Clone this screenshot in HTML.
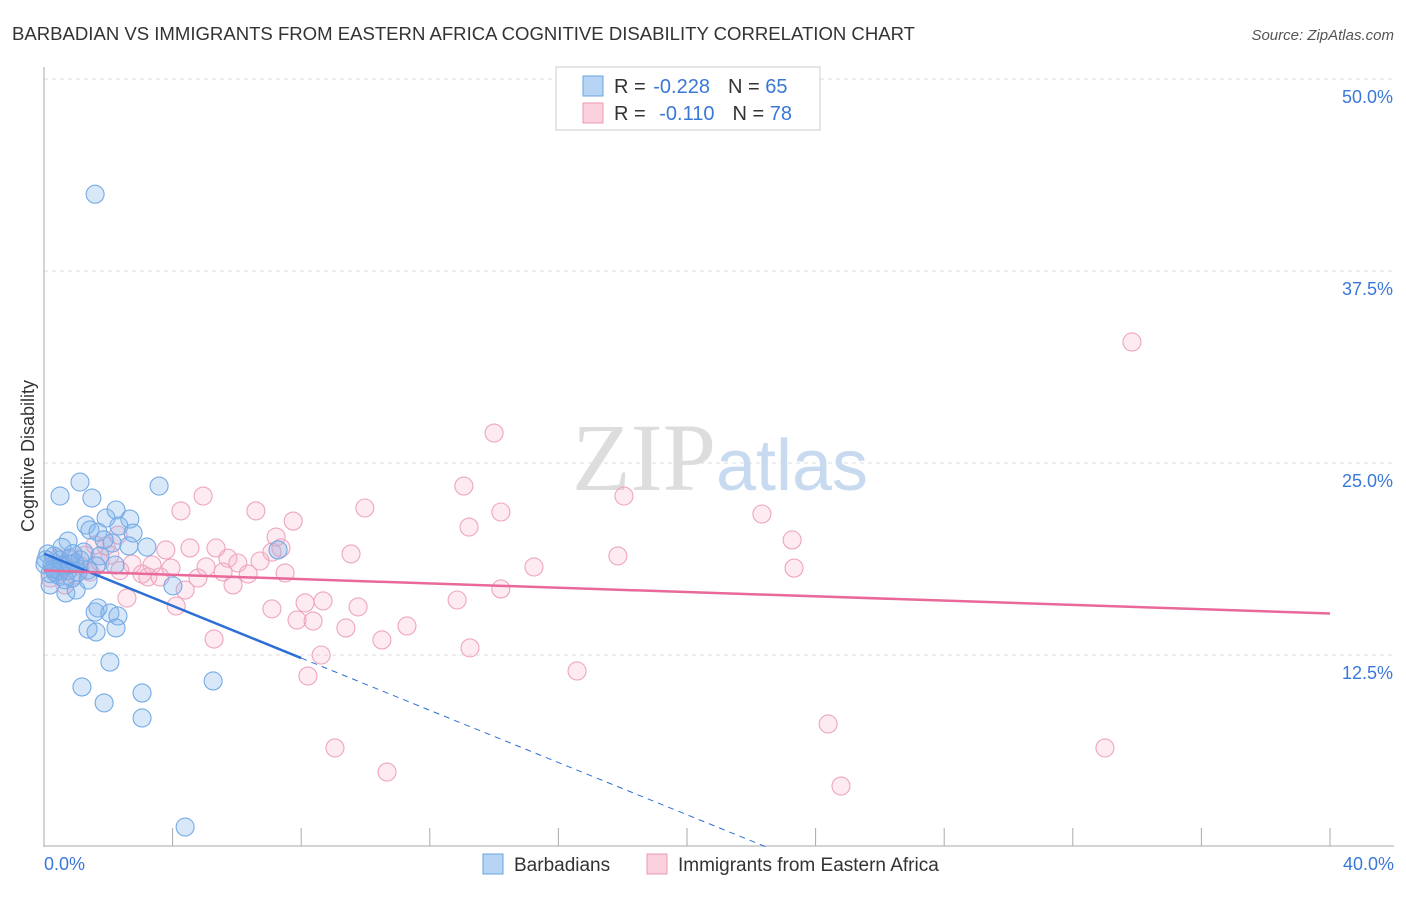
<!DOCTYPE html>
<html><head><meta charset="utf-8"><style>
body{margin:0;background:#fff;font-family:"Liberation Sans",sans-serif;}
</style></head><body>
<svg width="1406" height="892" viewBox="0 0 1406 892" xmlns="http://www.w3.org/2000/svg" font-family="Liberation Sans, sans-serif">
<text x="12" y="40" font-size="18" fill="#333" textLength="903" lengthAdjust="spacingAndGlyphs">BARBADIAN VS IMMIGRANTS FROM EASTERN AFRICA COGNITIVE DISABILITY CORRELATION CHART</text>
<text x="1394" y="40" font-size="15" fill="#555" text-anchor="end" font-style="italic">Source: ZipAtlas.com</text>
<g id="grid"></g>
<text x="720" y="490" font-size="96" text-anchor="middle" fill="#ddd" font-family="Liberation Serif, serif">ZIP<tspan fill="#c8daf0" font-family="Liberation Sans, sans-serif" font-size="72">atlas</tspan></text>
<g id="points"></g>
<g id="trends"></g>
<text transform="translate(34,456) rotate(-90)" font-size="18" fill="#333" text-anchor="middle">Cognitive Disability</text>
<g>
<rect x="556" y="67" width="264" height="63" fill="#fff" stroke="#ccc"/>
<rect x="583" y="76" width="20" height="20" fill="#b8d4f4" stroke="#6aa3e0"/>
<rect x="583" y="103" width="20" height="20" fill="#fbd0dd" stroke="#ec9ab5"/>
<text x="614" y="93" font-size="20" fill="#333">R = <tspan dx="2" fill="#3a78d8">-0.228</tspan><tspan dx="18">N = </tspan><tspan fill="#3a78d8">65</tspan></text>
<text x="614" y="120" font-size="20" fill="#333">R = <tspan dx="8" fill="#3a78d8">-0.110</tspan><tspan dx="18">N = </tspan><tspan fill="#3a78d8">78</tspan></text>
</g>
<g>
<rect x="483" y="854" width="20" height="20" fill="#b8d4f4" stroke="#6aa3e0"/>
<text x="514" y="871" font-size="19" fill="#333">Barbadians</text>
<rect x="647" y="854" width="20" height="20" fill="#fbd0dd" stroke="#ec9ab5"/>
<text x="678" y="871" font-size="19" fill="#333">Immigrants from Eastern Africa</text>
</g>
<text x="44" y="870" font-size="18" fill="#3a78d8">0.0%</text>
<text x="1394" y="870" font-size="18" fill="#3a78d8" text-anchor="end">40.0%</text>
</svg>
<script>
const yTicks=[12.5,25,37.5,50];
const yTickLabels=["12.5%","25.0%","37.5%","50.0%"];
const xTicks=[0,4,8,12,16,20,24,28,32,36,40];
const blueX=[1.59,0.5,1.12,1.49,3.58,2.24,1.93,2.67,1.31,2.33,1.43,0.75,2.77,2.12,3.2,2.64,1.24,1.74,0.31,0.5,0.81,0.12,0.25,0.56,1.06,1.37,1.62,2.21,0.87,0.44,0.19,0.68,1.0,1.37,7.28,4.01,1.68,1.59,2.05,2.3,1.37,1.62,2.24,2.05,1.18,3.05,5.26,1.87,3.05,4.39,0.5,0.75,0.34,0.03,0.56,0.96,0.06,0.19,1.12,0.65,0.81,1.68,1.87,0.9,0.3];
const blueY=[42.5,22.85,23.76,22.72,23.5,21.94,21.42,21.35,20.96,20.9,20.64,19.92,20.44,19.79,19.53,19.6,19.2,18.95,18.95,18.68,18.8,19.08,18.3,18.3,17.9,18.03,18.3,18.36,17.5,17.7,17.06,16.54,16.73,17.38,19.34,17.0,15.56,15.3,15.23,15.04,14.19,14.0,14.26,12.04,10.42,10.03,10.81,9.38,8.4,1.3,18.0,18.0,17.9,18.4,19.5,18.5,18.7,17.8,18.7,17.4,18.4,20.5,20.0,19.1,18.1];
const pinkX=[33.84,14.0,13.06,4.95,18.04,4.26,6.59,9.98,14.21,22.33,7.75,13.22,2.3,23.27,7.22,1.93,3.79,5.35,4.54,7.37,9.55,17.85,7.09,5.72,3.36,5.04,6.03,6.72,15.24,23.33,2.74,3.95,3.05,3.23,4.79,5.57,6.35,7.5,3.61,5.88,4.39,2.58,14.21,4.11,7.09,8.12,8.68,9.77,12.85,7.87,8.37,9.39,11.29,5.29,10.51,13.25,8.62,16.58,8.21,24.39,9.05,33.0,10.67,24.79,0.34,0.5,0.81,1.12,1.43,1.74,0.19,0.65,1.28,0.96,2.05,2.36,1.59,0.44];
const pinkY=[32.88,26.95,23.5,22.85,22.85,21.88,21.88,22.07,21.81,21.68,21.22,20.83,20.31,19.99,20.18,19.6,19.34,19.47,19.47,19.47,19.08,18.95,19.2,18.8,18.36,18.23,18.49,18.62,18.23,18.16,18.42,18.16,17.77,17.58,17.51,17.9,17.77,17.84,17.58,17.06,16.73,16.21,16.8,15.69,15.5,15.89,16.02,15.63,16.08,14.78,14.71,14.26,14.39,13.54,13.48,12.96,12.5,11.46,11.13,8.01,6.45,6.45,4.88,3.97,18.36,17.9,18.68,18.3,17.9,18.55,17.51,17.06,19.0,17.7,19.0,18.0,19.66,18.8];
const blueTrend=[19.1,-0.85];
const pinkTrend=[18.0,-0.07];
const NS="http://www.w3.org/2000/svg";
function sx(v){return 44+v*(1286/40);}
function sy(v){return 847-v*15.36;}
function mk(t,a,p){const e=document.createElementNS(NS,t);for(const k in a)e.setAttribute(k,a[k]);p.appendChild(e);return e;}
const grid=document.getElementById('grid');
yTicks.forEach((t,i)=>{
  const l=mk('line',{x1:44,x2:1394,y1:sy(t),y2:sy(t),stroke:'#ddd','stroke-dasharray':'4,4'},grid);
  
  
  const tx=mk('text',{x:1393,y:sy(t)+24,'font-size':18,fill:'#3a78d8','text-anchor':'end'},grid);
  tx.textContent=yTickLabels[i];
  
  
});
const ax=mk('line',{x1:44,x2:44,y1:67,y2:847,stroke:'#aaa'},grid);


const bx=mk('line',{x1:44,x2:1394,y1:846,y2:846,stroke:'#aaa'},grid);


xTicks.forEach(t=>{
  const l=mk('line',{x1:sx(t),x2:sx(t),y1:828,y2:846,stroke:'#aaa'},grid);
  
  
});
const pts=document.getElementById('points');
pinkX.forEach((x,i)=>{
  const c=mk('circle',{cx:sx(x),cy:sy(pinkY[i]),r:9,fill:'rgba(246,175,200,0.25)',stroke:'#eea5bf','stroke-width':1.1},pts);
  
  
});
blueX.forEach((x,i)=>{
  const c=mk('circle',{cx:sx(x),cy:sy(blueY[i]),r:9,fill:'rgba(130,180,235,0.3)',stroke:'#74abe6','stroke-width':1.1},pts);
  
  
});
const tr=document.getElementById('trends');
const bEnd=-blueTrend[0]/blueTrend[1];
let l1=mk('line',{x1:sx(0),y1:sy(blueTrend[0]),x2:sx(8),y2:sy(blueTrend[0]+8*blueTrend[1]),stroke:'#2e6fd6','stroke-width':2.5},tr);


let l2=mk('line',{x1:sx(8),y1:sy(blueTrend[0]+8*blueTrend[1]),x2:sx(bEnd),y2:sy(0),stroke:'#2e6fd6','stroke-width':1,'stroke-dasharray':'6,5'},tr);


let l3=mk('line',{x1:sx(0),y1:sy(pinkTrend[0]),x2:sx(40),y2:sy(pinkTrend[0]+40*pinkTrend[1]),stroke:'#e8699a','stroke-width':2.5},tr);


</script>
</body></html>
